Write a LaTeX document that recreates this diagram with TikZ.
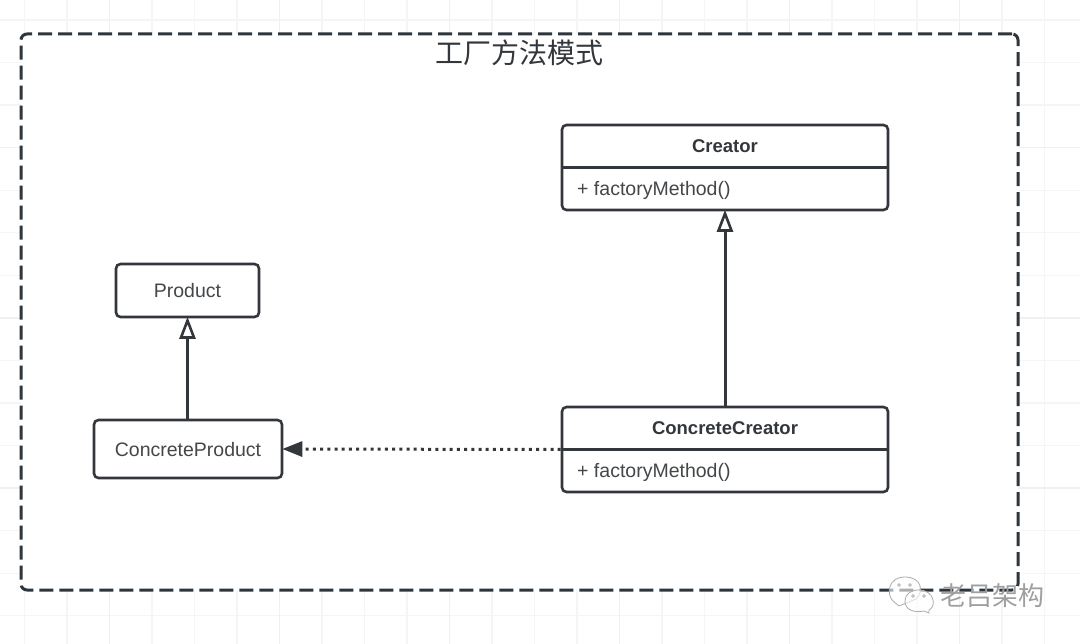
\documentclass[tikz,border=0pt]{standalone}
\usepackage{fontspec}
\setmainfont{Liberation Sans}
\newfontfamily\cjk{Noto Sans CJK SC}
\usetikzlibrary{arrows.meta}
\usetikzlibrary{shapes}

\definecolor{inkline}{HTML}{33373B}
\definecolor{inktext}{HTML}{444749}
\definecolor{framecol}{HTML}{2D353D}
\definecolor{gridminor}{HTML}{F5F5F5}
\definecolor{gridmajor}{HTML}{F0F0F0}
\tikzset{
	frame/.style={draw=framecol, fill=white, line width=3pt, rounded corners=6pt, dash pattern=on 14pt off 6pt, minimum width=997pt, minimum height=556pt, inner sep=0pt},
	classbox/.style={draw=inkline, fill=white, line width=2.6pt, rounded corners=4.5pt, inner sep=0pt},
	boxlabel/.style={text=inktext, font=\fontsize{19.5}{21}\selectfont, inner sep=0pt},
	namelabel/.style={text=inkline, font=\bfseries\fontsize{18.5}{20}\selectfont, inner sep=0pt},
	extends/.style={draw=inkline, line width=3pt, shorten >=-1.5pt, -{Triangle[open, length=22pt, width=16pt, line width=2.6pt]}},
	uses/.style={draw=inkline, line width=3pt, shorten >=-1pt, dash pattern=on 3pt off 4.2pt, -{Triangle[length=20pt, width=15pt]}},
	bubble/.style={draw=gray!65, line width=0.8pt, fill=white, fill opacity=0.6},
}

\begin{document}
\begin{tikzpicture}[x=1pt, y=-1pt]
	\useasboundingbox (0,0) rectangle (1080,644);
	\fill[white] (0,0) rectangle (1080,644);

	% the paper grid
	\foreach \i in {0,...,24}
		\draw[gridminor, line width=1.2pt] (24.5+42.5*\i,0) -- (24.5+42.5*\i,644);
	\foreach \i in {0,...,14}
		\draw[gridminor, line width=1.2pt] (0,20+42.55*\i) -- (1080,20+42.55*\i);
	\foreach \i in {0,...,5}
		\draw[gridmajor, line width=1.4pt] (109.5+170*\i,0) -- (109.5+170*\i,644);
	\foreach \i in {0,1,2}
		\draw[gridmajor, line width=1.4pt] (0,147.7+170.2*\i) -- (1080,147.7+170.2*\i);

	\node[frame] (frame) at (519.5,312) {};
	\node[text=inkline, font=\cjk\fontsize{28}{30}\selectfont, inner sep=0pt] (title) at (519.5,53) {工厂方法模式};

	\node[classbox, minimum width=326pt, minimum height=85pt] (creator) at (725,167.5) {};
	\node[classbox, minimum width=326pt, minimum height=85pt] (concretecreator) at (725,449.5) {};
	\node[classbox, minimum width=143pt, minimum height=53pt] (product) at (187.5,290.5) {};
	\node[classbox, minimum width=188pt, minimum height=58pt] (concreteproduct) at (188,449) {};

	\draw[draw=inkline, line width=2.6pt] (creator.west) -- (creator.east);
	\draw[draw=inkline, line width=2.6pt] (concretecreator.west) -- (concretecreator.east);

	\node[namelabel] (creatorname) at (725,146) {Creator};
	\node[boxlabel, anchor=west] (creatormethod) at (577,190) {+ factoryMethod()};
	\node[namelabel] (concretecreatorname) at (725,428.5) {ConcreteCreator};
	\node[boxlabel, anchor=west] (concretecreatormethod) at (577,472) {+ factoryMethod()};
	\node[boxlabel] (productname) at (product) {Product};
	\node[boxlabel] (concreteproductname) at (188,450) {ConcreteProduct};

	\draw[extends] (product.south |- concreteproduct.north) -- (product.south);
	\draw[extends] (concretecreator.north) -- (creator.south);
	\draw[uses] (concretecreator.west) -- (concreteproduct.east);

	% watermark in the corner
	\filldraw[bubble] (893,601) .. controls (886,594) and (888,577) .. (905,577) .. controls (922,577) and (924,592) .. (916,599) -- (899,606) -- cycle;
	\filldraw[bubble] (919,590) .. controls (934,590) and (937,606) .. (929,610) -- (929,613) -- (924,611) .. controls (914,613) and (905,610) .. (905,601) .. controls (905,594) and (911,590) .. (919,590) -- cycle;
	\foreach \x/\y in {899/585,910/585,913/596,924/596}
		\draw[gray!65, line width=0.7pt] (\x,\y) circle (1.3pt);
	\node[text=gray!75, font=\cjk\fontsize{26}{28}\selectfont, inner sep=0pt] (mark) at (992.5,596) {老吕架构};
\end{tikzpicture}
\end{document}
